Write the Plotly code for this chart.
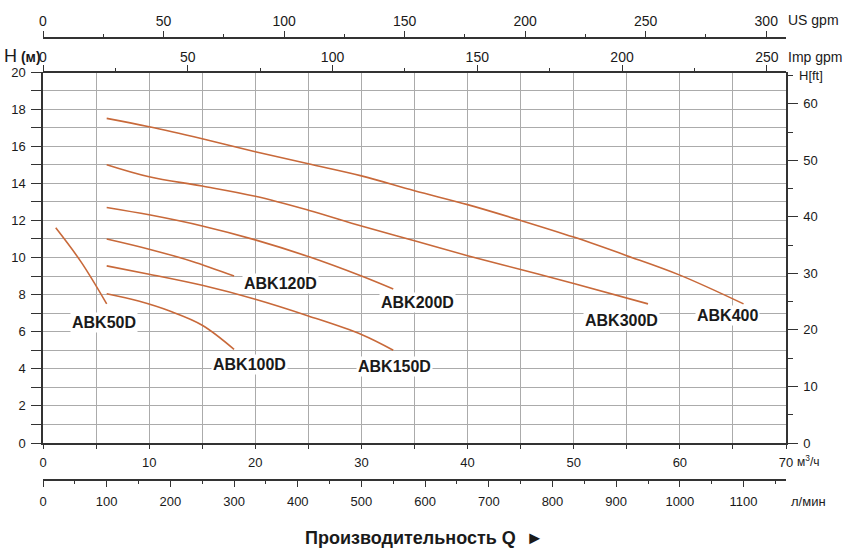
import plotly.graph_objects as go

# ---- data (flow in m3/h, head in m) ----
q_50 = [1.2, 3.6, 6.0]
h_50 = [11.6, 9.75, 7.5]
q_100 = [6, 9, 12, 15, 18]
h_100 = [8.05, 7.65, 7.1, 6.35, 5.05]
q_120 = [6, 10, 14, 18]
h_120 = [11.0, 10.45, 9.8, 9.0]
q_150 = [6, 10, 15, 20, 25, 30, 33]
h_150 = [9.55, 9.1, 8.5, 7.75, 6.85, 5.85, 5.0]
q_200 = [6, 10, 15, 20, 25, 30, 33]
h_200 = [12.7, 12.3, 11.7, 10.95, 10.05, 9.0, 8.3]
q_300 = [6, 10, 15, 20, 25, 30, 35, 40, 45, 50, 57]
h_300 = [15.0, 14.35, 13.85, 13.3, 12.55, 11.7, 10.9, 10.1, 9.35, 8.6, 7.5]
q_400 = [6, 10, 15, 20, 25, 30, 35, 40, 45, 50, 55, 60, 66]
h_400 = [17.5, 17.05, 16.4, 15.7, 15.05, 14.4, 13.6, 12.85, 12.0, 11.1, 10.1, 9.05, 7.5]

series_names = ["ABK50D", "ABK100D", "ABK120D", "ABK150D", "ABK200D", "ABK300D", "ABK400"]
series_q = [q_50, q_100, q_120, q_150, q_200, q_300, q_400]
series_h = [h_50, h_100, h_120, h_150, h_200, h_300, h_400]

# label anchor positions (m3/h, m)
label_q = [5.7, 19.5, 22.4, 33.1, 35.3, 54.5, 64.5]
label_h = [6.47, 4.24, 8.61, 4.11, 7.58, 6.63, 6.85]

# axis settings
q_max = 70
h_max = 20
ft_per_m = 3.28084
usgpm_per_m3h = 4.40287
impgpm_per_m3h = 3.66615
lmin_per_m3h = 16.6667

x_ticks = list(range(0, 71, 10))
y_ticks = list(range(0, 21, 2))
ft_ticks = list(range(0, 61, 10))
us_ticks = list(range(0, 301, 50))
imp_ticks = list(range(0, 251, 50))
lmin_ticks = list(range(0, 1101, 100))

CURVE = "#C8693A"
GRID = "#ababab"
AXIS = "#333333"
TXT = "#1a1a1a"
FONT = "Liberation Sans, Arial, sans-serif"

fig = go.Figure()
for name, q, h in zip(series_names, series_q, series_h):
    fig.add_trace(go.Scatter(x=q, y=h, mode="lines", name=name,
                             line=dict(color=CURVE, width=1.6, shape="spline", smoothing=1.0),
                             showlegend=False, hoverinfo="skip"))

# invisible traces to activate secondary axes
for ax, mx in [("x2", q_max * usgpm_per_m3h), ("x3", q_max * impgpm_per_m3h), ("x4", q_max * lmin_per_m3h)]:
    fig.add_trace(go.Scatter(x=[0, mx], y=[0, 0], xaxis=ax, yaxis="y", mode="lines",
                             line=dict(width=0, color="rgba(0,0,0,0)"), showlegend=False, hoverinfo="skip"))
fig.add_trace(go.Scatter(x=[0, q_max], y=[0, h_max * ft_per_m], xaxis="x", yaxis="y2", mode="lines",
                         line=dict(width=0, color="rgba(0,0,0,0)"), showlegend=False, hoverinfo="skip"))

# paper geometry
W_total, H_total = 848, 557
l_m, r_m = 43, 62
t_m, b_m = 10, 37
paper_h = H_total - t_m - b_m
paper_w = W_total - l_m - r_m
def ypos(px):
    return (H_total - b_m - px) / paper_h
def xpos(px):
    return (px - l_m) / paper_w

plot_bottom = ypos(443)
plot_top = ypos(72)

tickfont = dict(family=FONT, size=13, color=TXT)
topfont = dict(family=FONT, size=14, color=TXT)

fig.update_layout(
    width=W_total, height=H_total,
    margin=dict(l=l_m, r=r_m, t=t_m, b=b_m, autoexpand=False),
    paper_bgcolor="white", plot_bgcolor="white",
    font=dict(family=FONT, color=TXT),
    xaxis=dict(domain=[0, 1], range=[0, q_max], tickvals=x_ticks, showgrid=True, automargin=False,
               gridcolor=GRID, gridwidth=1, showline=True, linecolor=AXIS, linewidth=1.5,
               ticks="outside", ticklen=4, tickcolor=AXIS, tickfont=tickfont, zeroline=False,
               ticklabelstandoff=3,
               minor=dict(dtick=5, showgrid=True, gridcolor=GRID, gridwidth=1,
                          ticks="outside", ticklen=4, tickcolor=AXIS)),
    yaxis=dict(domain=[plot_bottom, plot_top], range=[0, h_max], tickvals=y_ticks, automargin=False,
               showgrid=True, gridcolor=GRID, gridwidth=1, showline=True, linecolor=AXIS,
               linewidth=1.5, ticks="outside", ticklen=10, tickcolor=AXIS, tickfont=tickfont,
               zeroline=False, ticklabelstandoff=3,
               minor=dict(dtick=1, showgrid=True, gridcolor=GRID, gridwidth=1,
                          ticks="outside", ticklen=10, tickcolor=AXIS)),
    yaxis2=dict(overlaying="y", side="right", anchor="x", range=[0, h_max * ft_per_m], automargin=False,
                tickvals=ft_ticks, showgrid=False, showline=True, linecolor=AXIS, linewidth=1.5,
                ticks="outside", ticklen=10, tickcolor=AXIS, tickfont=tickfont, zeroline=False,
                ticklabelstandoff=3,
                minor=dict(dtick=5, ticks="outside", ticklen=5, tickcolor=AXIS, showgrid=False)),
    xaxis2=dict(overlaying="x", anchor="free", position=ypos(37.7), side="top", automargin=False,
                range=[0, q_max * usgpm_per_m3h], tickvals=us_ticks, showgrid=False,
                showline=True, linecolor=AXIS, linewidth=1.5, ticks="outside", ticklen=6,
                tickcolor=AXIS, tickfont=topfont, zeroline=False, ticklabelstandoff=-1,
                minor=dict(dtick=25, ticks="outside", ticklen=3, tickcolor=AXIS, showgrid=False)),
    xaxis3=dict(overlaying="x", anchor="free", position=plot_top, side="top", automargin=False,
                range=[0, q_max * impgpm_per_m3h], tickvals=imp_ticks, showgrid=False,
                showline=True, linecolor=AXIS, linewidth=1.5, ticks="outside", ticklen=6,
                tickcolor=AXIS, tickfont=topfont, zeroline=False, ticklabelstandoff=-2,
                minor=dict(dtick=25, ticks="outside", ticklen=3, tickcolor=AXIS, showgrid=False)),
    xaxis4=dict(overlaying="x", anchor="free", position=ypos(480), side="bottom", automargin=False,
                range=[0, q_max * lmin_per_m3h], tickvals=lmin_ticks, showgrid=False,
                showline=True, linecolor=AXIS, linewidth=1.5, ticks="outside", ticklen=6,
                tickcolor=AXIS, tickfont=tickfont, zeroline=False, ticklabelstandoff=4,
                minor=dict(dtick=50, ticks="outside", ticklen=3, tickcolor=AXIS, showgrid=False)),
)

# curve labels
for name, lq, lh in zip(series_names, label_q, label_h):
    fig.add_annotation(x=lq, y=lh, xref="x", yref="y", text="<b>" + name + "</b>",
                       showarrow=False, bgcolor="white", borderpad=1,
                       font=dict(family=FONT, size=16, color=TXT))

# axis unit labels
def pix_ann(text, x_px, y_px, size=14, xanchor="left", bold=False):
    fig.add_annotation(x=xpos(x_px), y=ypos(y_px), xref="paper", yref="paper",
                       text=("<b>" + text + "</b>") if bold else text, showarrow=False,
                       xanchor=xanchor, yanchor="middle",
                       font=dict(family=FONT, size=size, color=TXT))

pix_ann("US gpm", 786, 20, size=14)
pix_ann("Imp gpm", 786, 57, size=14)
pix_ann("H[ft]", 797, 76, size=13)
pix_ann("м<sup>3</sup>/ч", 795, 461, size=12)
pix_ann("л/мин", 789, 501, size=13)
pix_ann("<span style='font-size:18px'>H</span> <b>(м)</b>", 2, 56, size=14)
pix_ann("Производительность Q  ►", 425, 538, size=18, xanchor="center", bold=True)

fig.write_html("out.html")
